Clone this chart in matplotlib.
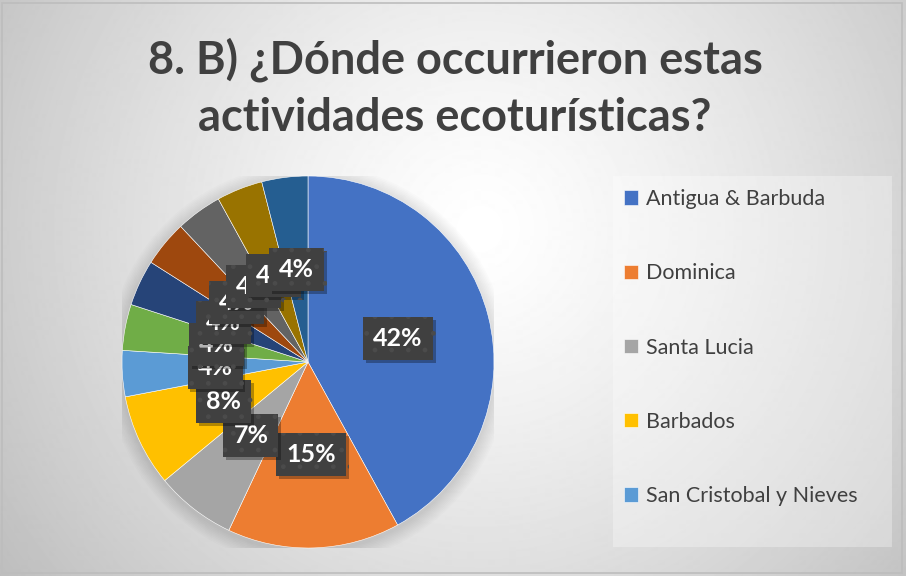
import numpy as np
import matplotlib
matplotlib.use('Agg')
import matplotlib.pyplot as plt
from matplotlib.patches import Rectangle, Circle
import matplotlib.patheffects as pe

# datos
paises = ['Antigua & Barbuda', 'Dominica', 'Santa Lucia', 'Barbados',
          'San Cristobal y Nieves']
porcentajes = [42, 15, 7, 8, 4, 4, 4, 4, 4, 4, 4]
colores = ['#4472C4', '#ED7D31', '#A5A5A5', '#FFC000', '#5B9BD5', '#70AD47',
           '#264478', '#9E480E', '#636363', '#997300', '#255E91']
titulo = '8. B) ¿Dónde occurrieron estas\nactividades ecoturísticas?'

W, H = 906, 577
fig = plt.figure(figsize=(W / 100, H / 100), dpi=100)

# fondo con degradado radial
bg = fig.add_axes([0, 0, 1, 1])
bg.axis('off')
yy, xx = np.mgrid[0:H, 0:W]
d = np.hypot(xx - 480, yy - 230) / 560
g = np.clip(1 - 0.24 * d ** 1.3, 0, 1)
bg.imshow(g, cmap='gray', vmin=0, vmax=1, aspect='auto', interpolation='bilinear')
bg.set_xlim(0, W)
bg.set_ylim(H, 0)
bg.add_patch(Rectangle((2, 3), W - 6, H - 7, fill=False, ec='#bdbdbd', lw=1.2))
bg.add_patch(Rectangle((613, 176), 279, 371, fc='white', alpha=0.3, ec='none'))

# pastel
R, cx, cy = 186, 308, 362
ax = fig.add_axes([(cx - R) / W, (H - cy - R) / H, 2 * R / W, 2 * R / H])
for i in range(10):
    ax.add_patch(Circle((0, -0.015), 1 + 0.008 * (i + 1), color='k', alpha=0.012, lw=0))

wedges, texts, autotexts = ax.pie(
    porcentajes, colors=colores, startangle=90, counterclock=False,
    autopct=lambda p: f'{p:.0f}%', pctdistance=0.5,
    wedgeprops=dict(edgecolor='white', linewidth=0.4))
ax.set_xlim(-1, 1)
ax.set_ylim(-1, 1)
ax.axis('off')

for t in autotexts:
    t.set_color('white')
    t.set_fontweight('bold')
    t.set_fontsize(18)
    t.set_fontfamily('Lato')
    t.set_bbox(dict(boxstyle='square,pad=0.4', fc='#404040', ec='#4b4b4b',
                    lw=0, hatch='.'))
    t.get_bbox_patch().set_path_effects(
        [pe.SimplePatchShadow(offset=(2, -2), shadow_rgbFace='k', alpha=0.3),
         pe.Normal()])

# leyenda (solo las primeras cinco entradas)
fig.legend(wedges[:5], paises, loc='upper left',
           bbox_to_anchor=(624 / W, 1 - 189 / H), frameon=False,
           prop=dict(family='Lato', size=15.5), labelcolor='#404040',
           labelspacing=2.52, handlelength=0.65, handleheight=0.65,
           handletextpad=0.35, borderpad=0, borderaxespad=0)

fig.text(455 / W, 1 - 88 / H, titulo, ha='center', va='center', fontsize=32.5,
         fontweight='bold', color='#404040', family='Lato', linespacing=1.45)

fig.savefig('out.png', dpi=100)
